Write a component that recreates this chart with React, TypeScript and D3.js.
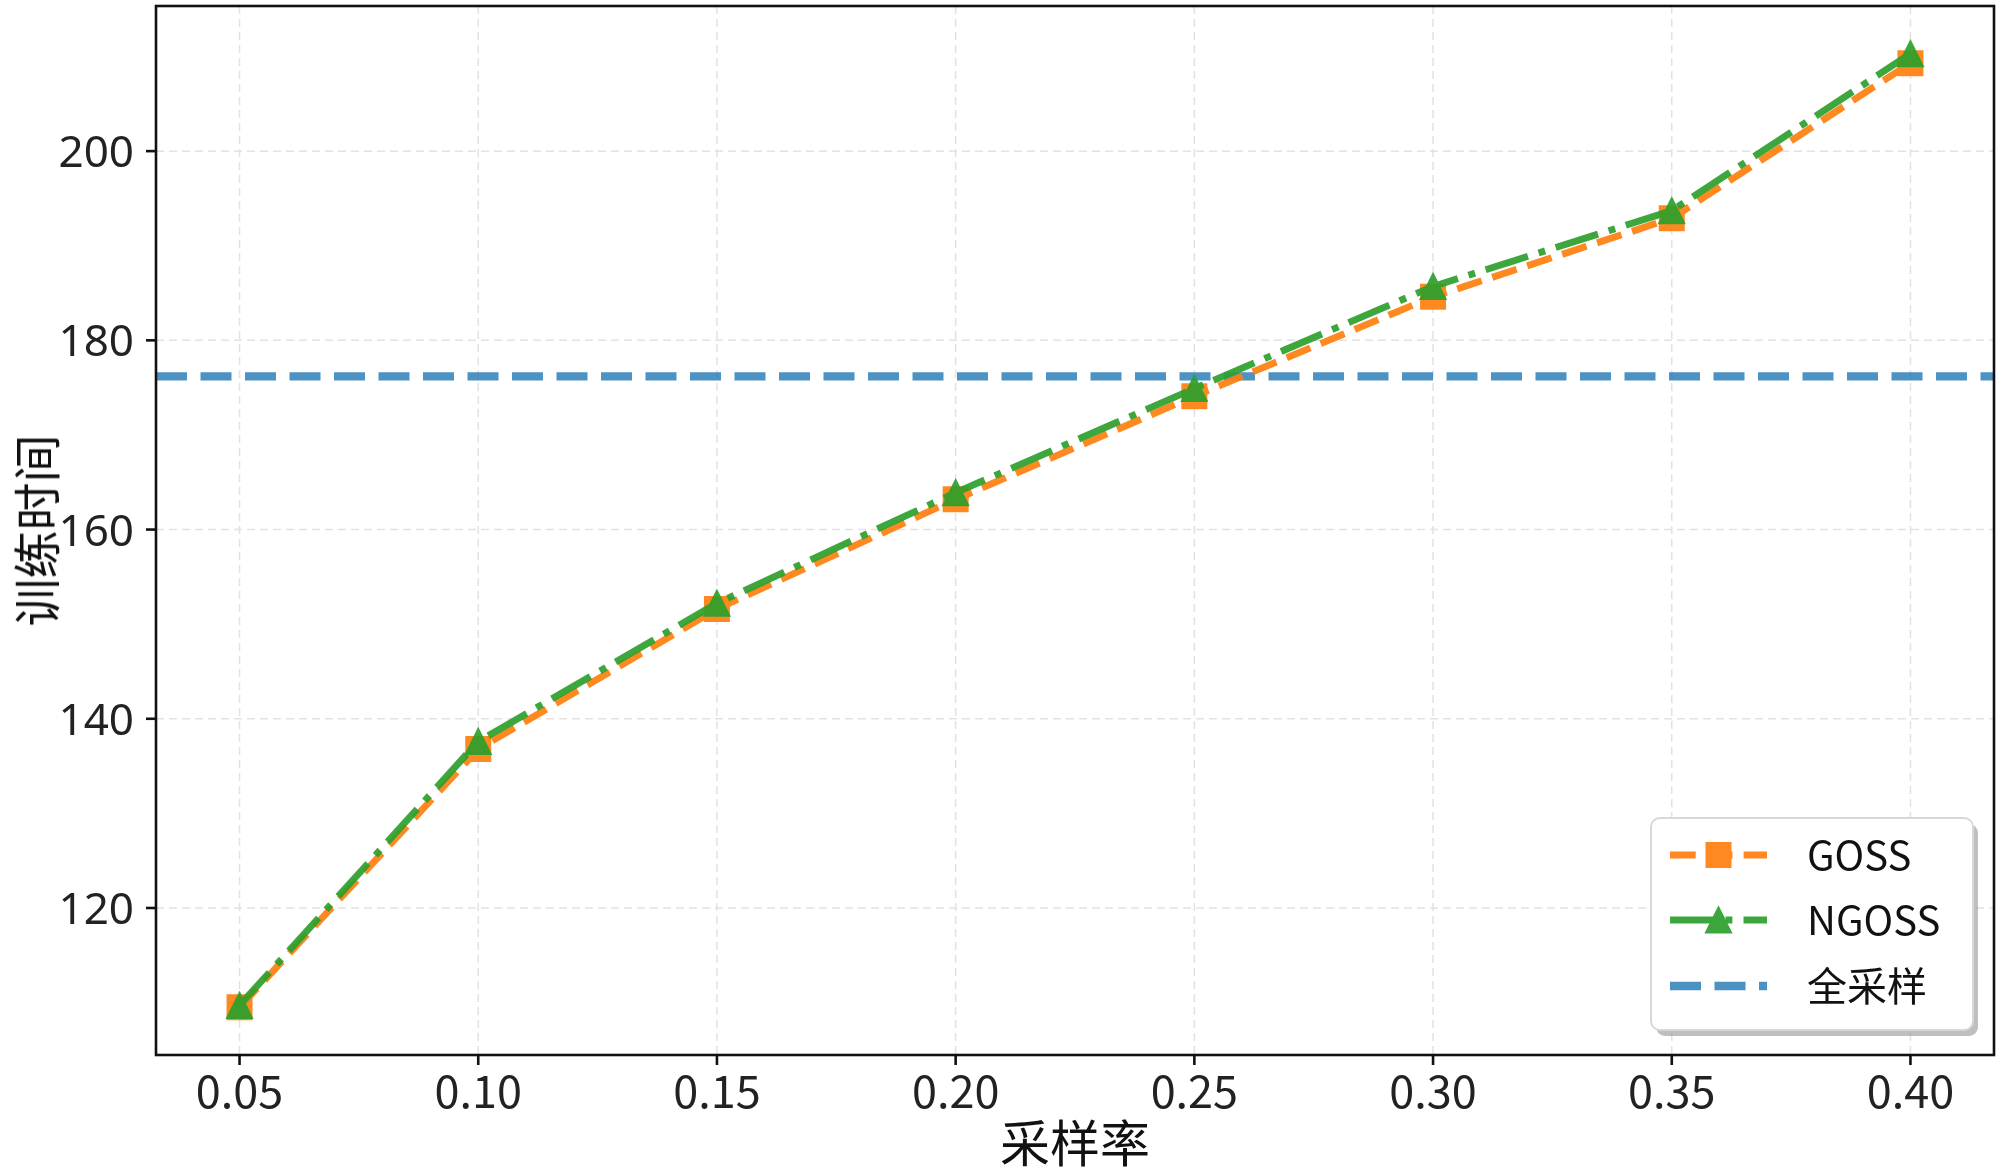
import React, { useEffect, useRef } from "react";
import * as d3 from "d3";

// data
const rates = [0.05, 0.1, 0.15, 0.2, 0.25, 0.3, 0.35, 0.4];
const gossTime = [109.5, 136.8, 151.6, 163.2, 174.1, 184.6, 192.9, 209.3];
const ngossTime = [109.7, 137.6, 152.2, 163.9, 174.9, 185.7, 193.7, 210.3];
const fullSampleTime = 176.2;
const yTicks = [120, 140, 160, 180, 200];
const legendLabels = ["GOSS", "NGOSS", "全采样"];

const COLORS = { goss: "#ff7f0e", ngoss: "#2ca02c", full: "#1f77b4" };
const CJK = "'Noto Sans CJK SC', 'Noto Sans', sans-serif";

const App = () => {
  const ref = useRef<SVGSVGElement>(null);

  useEffect(() => {
    const width = 2000;
    const height = 1176;
    const margin = { top: 6, right: 6, bottom: 121, left: 156 };

    d3.select(ref.current).selectAll("*").remove();
    const svg = d3.select(ref.current).attr("width", width).attr("height", height);

    // échelles, marges de 5 % comme matplotlib
    const xr = d3.extent(rates) as [number, number];
    const xPad = (xr[1] - xr[0]) * 0.05;
    const x = d3.scaleLinear().domain([xr[0] - xPad, xr[1] + xPad]).range([margin.left, width - margin.right]);

    const all = gossTime.concat(ngossTime);
    const yr = d3.extent(all) as [number, number];
    const yPad = (yr[1] - yr[0]) * 0.05;
    const y = d3.scaleLinear().domain([yr[0] - yPad, yr[1] + yPad]).range([height - margin.bottom, margin.top]);

    const x0 = margin.left, x1 = width - margin.right;
    const y0 = margin.top, y1 = height - margin.bottom;

    // grille
    const grid = svg.append("g").attr("stroke", "#e2e2e2").attr("stroke-width", 1.5).attr("stroke-dasharray", "8,5");
    grid.selectAll("line.gx").data(rates).enter().append("line")
      .attr("x1", d => x(d)).attr("x2", d => x(d)).attr("y1", y0).attr("y2", y1);
    grid.selectAll("line.gy").data(yTicks).enter().append("line")
      .attr("y1", d => y(d)).attr("y2", d => y(d)).attr("x1", x0).attr("x2", x1);

    // ligne de référence (全采样)
    svg.append("line")
      .attr("x1", x0).attr("x2", x1)
      .attr("y1", y(fullSampleTime)).attr("y2", y(fullSampleTime))
      .attr("stroke", COLORS.full).attr("stroke-opacity", 0.8)
      .attr("stroke-width", 8.3).attr("stroke-dasharray", "31,13.5");

    const line = d3.line<number>().x((d, i) => x(rates[i])).y(d => y(d));
    const squarePath = d3.symbol().type(d3.symbolSquare).size(24 * 24)();
    const triPath = "M0,-12.5L12.5,12.5L-12.5,12.5Z";

    const series = [
      { values: gossTime, color: COLORS.goss, dash: "25.7,11.1", marker: squarePath },
      { values: ngossTime, color: COLORS.ngoss, dash: "44.4,11.1,6.9,11.1", marker: triPath },
    ];

    series.forEach(s => {
      const g = svg.append("g").attr("opacity", 0.92);
      g.append("path")
        .attr("d", line(s.values))
        .attr("fill", "none")
        .attr("stroke", s.color)
        .attr("stroke-width", 6.9)
        .attr("stroke-dasharray", s.dash)
        .attr("stroke-linejoin", "round");
      g.selectAll("path.m").data(s.values).enter().append("path")
        .attr("d", s.marker)
        .attr("transform", (d, i) => `translate(${x(rates[i])},${y(d)})`)
        .attr("fill", s.color)
        .attr("stroke", s.color)
        .attr("stroke-width", 2);
    });

    // cadre
    svg.append("rect")
      .attr("x", x0).attr("y", y0).attr("width", x1 - x0).attr("height", y1 - y0)
      .attr("fill", "none").attr("stroke", "#111").attr("stroke-width", 2.6);

    // axe x
    const xAxis = svg.append("g");
    xAxis.selectAll("line").data(rates).enter().append("line")
      .attr("x1", d => x(d)).attr("x2", d => x(d)).attr("y1", y1).attr("y2", y1 + 10)
      .attr("stroke", "#111").attr("stroke-width", 2.6);
    xAxis.selectAll("text").data(rates).enter().append("text")
      .attr("x", d => x(d)).attr("y", 1108)
      .attr("text-anchor", "middle")
      .attr("font-family", CJK).attr("font-size", 45).attr("fill", "#222")
      .text(d => d3.format(".2f")(d));

    // axe y
    const yAxis = svg.append("g");
    yAxis.selectAll("line").data(yTicks).enter().append("line")
      .attr("x1", x0 - 10).attr("x2", x0).attr("y1", d => y(d)).attr("y2", d => y(d))
      .attr("stroke", "#111").attr("stroke-width", 2.6);
    yAxis.selectAll("text").data(yTicks).enter().append("text")
      .attr("x", x0 - 22).attr("y", d => y(d) + 16)
      .attr("text-anchor", "end")
      .attr("font-family", "'Noto Sans', sans-serif").attr("font-size", 44).attr("fill", "#222")
      .text(d => d);

    // titres des axes
    svg.append("text")
      .attr("x", (x0 + x1) / 2).attr("y", 1162)
      .attr("text-anchor", "middle")
      .attr("font-family", CJK).attr("font-size", 50).attr("fill", "#111")
      .text("采样率");
    svg.append("text")
      .attr("transform", `translate(55,${(y0 + y1) / 2}) rotate(-90)`)
      .attr("text-anchor", "middle")
      .attr("font-family", CJK).attr("font-size", 48).attr("fill", "#111")
      .text("训练时间");

    // légende
    const lg = svg.append("g");
    const box = { x: 1651, y: 818, w: 322, h: 212 };
    lg.append("rect")
      .attr("x", box.x + 5).attr("y", box.y + 6).attr("width", box.w).attr("height", box.h)
      .attr("rx", 9).attr("fill", "#8a8a8a").attr("opacity", 0.55);
    lg.append("rect")
      .attr("x", box.x).attr("y", box.y).attr("width", box.w).attr("height", box.h)
      .attr("rx", 9).attr("fill", "#fff").attr("stroke", "#d8d8d8").attr("stroke-width", 2);

    const rowY = [855, 920, 986];
    const handles = [
      { color: COLORS.goss, dash: "25.7,11.1", width: 6.9, marker: squarePath, opacity: 0.92 },
      { color: COLORS.ngoss, dash: "44.4,11.1,6.9,11.1", width: 6.9, marker: triPath, opacity: 0.92 },
      { color: COLORS.full, dash: "31,13.5", width: 8.3, marker: null, opacity: 0.8 },
    ];
    handles.forEach((h, i) => {
      const g = lg.append("g").attr("opacity", h.opacity);
      g.append("line")
        .attr("x1", 1670).attr("x2", 1767).attr("y1", rowY[i]).attr("y2", rowY[i])
        .attr("stroke", h.color).attr("stroke-width", h.width).attr("stroke-dasharray", h.dash);
      if (h.marker) {
        g.append("path").attr("d", h.marker)
          .attr("transform", `translate(1718.5,${rowY[i]})`)
          .attr("fill", h.color).attr("stroke", h.color).attr("stroke-width", 2);
      }
      lg.append("text")
        .attr("x", 1807).attr("y", rowY[i] + 15)
        .attr("font-family", CJK).attr("font-size", 40).attr("fill", "#111")
        .text(legendLabels[i]);
    });
  }, []);

  return (
    <div style={{ position: "absolute", left: 0, top: 0, background: "#fff" }}>
      <svg ref={ref} style={{ display: "block" }}></svg>
    </div>
  );
};

export default App;
